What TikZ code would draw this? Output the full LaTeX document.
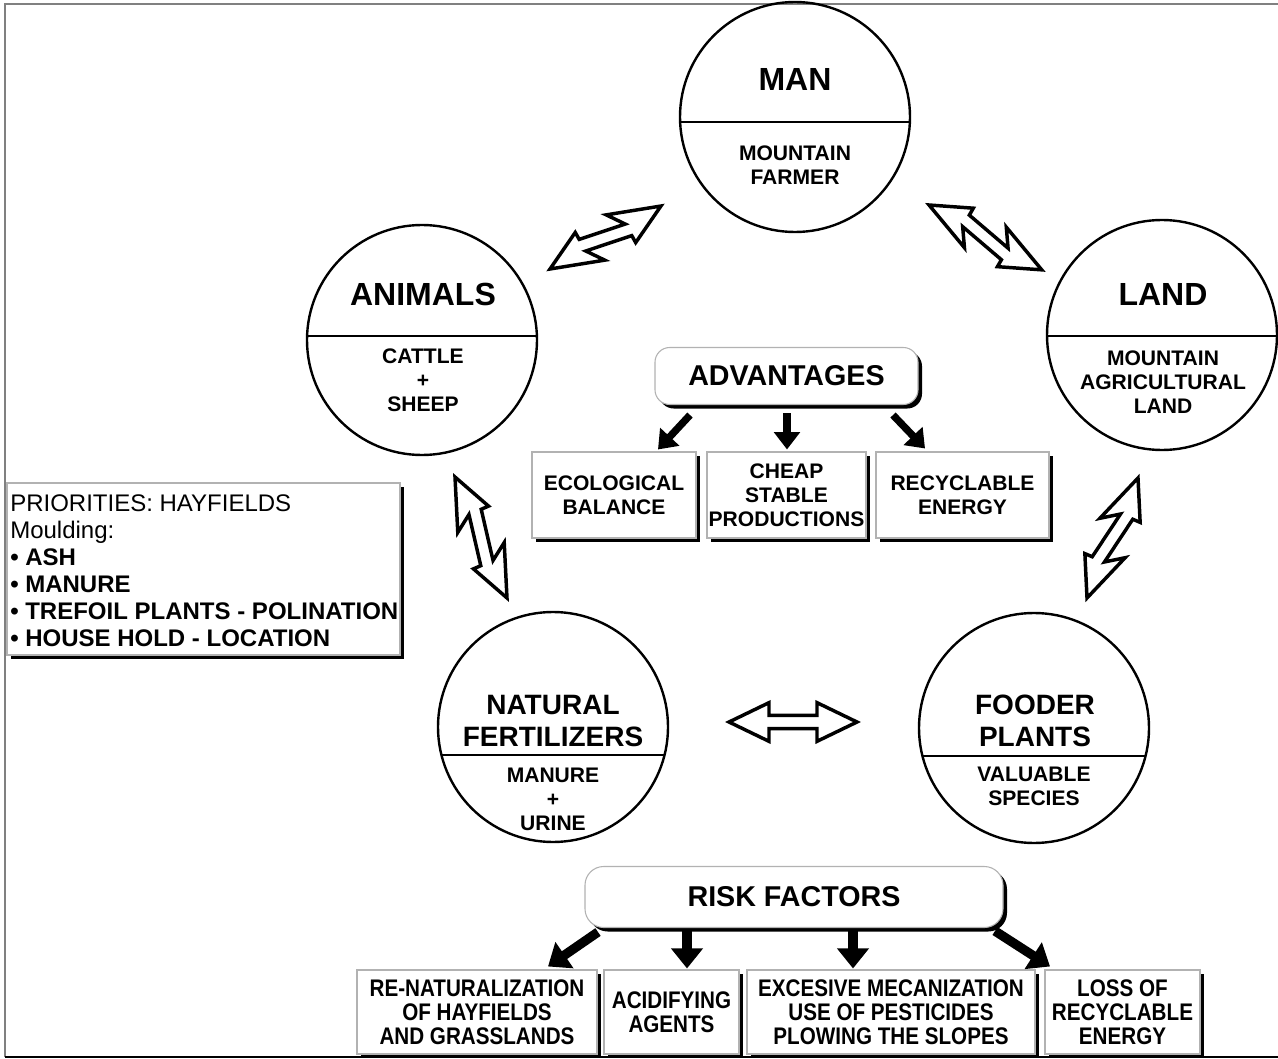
\documentclass[tikz,border=0pt]{standalone}
\usepackage{fontspec}
\setmainfont{Liberation Sans}
\newfontfamily\narrowfont[FakeStretch=0.86]{Liberation Sans}
\usetikzlibrary{calc,shadows,arrows.meta}
\newcommand\titlefont{\fontsize{24}{28}\selectfont\bfseries}
\newcommand\lowtitlefont{\fontsize{21}{24}\selectfont\bfseries}
\newcommand\subfont{\fontsize{15.8}{18}\selectfont\bfseries}
\newcommand\headfont{\fontsize{21.5}{24}\selectfont\bfseries}
\newcommand\riskfont{\narrowfont\fontsize{18}{18}\selectfont\bfseries}
\newcommand\hollowdbl[4]{%
  \pgfpointdiff{\pgfpointanchor{#1}{center}}{\pgfpointanchor{#2}{center}}%
  \pgfgetlastxy{\hdx}{\hdy}%
  \pgfmathsetmacro\harrang{atan2(\hdy,\hdx)}%
  \pgfmathsetmacro\harrlen{veclen(\hdx,\hdy)}%
  \begin{scope}[shift={(#1)}, rotate=\harrang]
    \draw[hollowarrow] (0pt,0pt) -- (30pt,14.5pt) -- (30pt,{(5+#3)*1pt})
      -- ({(\harrlen-30)*1pt},{(5-#3)*1pt}) -- ({(\harrlen-30-#4)*1pt},14.5pt)
      -- ({\harrlen*1pt},0pt) -- ({(\harrlen-30)*1pt},-14.5pt)
      -- ({(\harrlen-30)*1pt},{(-5-#3)*1pt}) -- (30pt,{(-5+#3)*1pt})
      -- ({(30+#4)*1pt},-14.5pt) -- cycle;
  \end{scope}}
\begin{document}
\begin{tikzpicture}[x=0.75pt,y=-0.75pt,
  circ/.style={circle, draw, line width=1.8pt, minimum size=172.5pt, inner sep=0pt, outer sep=0pt},
  sbox/.style={rectangle, draw=gray!60, line width=0.8pt, fill=white, inner sep=0pt, align=center,
    drop shadow={shadow xshift=3pt, shadow yshift=-3pt, opacity=1, fill=black}},
  rbox/.style={sbox, rounded corners=11pt},
  hollowarrow/.style={draw=black, fill=white, line width=2.6pt, line join=miter},
  solidarrow/.style={line width=5.5pt, -{Triangle[length=13pt,width=19pt]}},
  bigarrow/.style={line width=7pt, -{Triangle[length=15pt,width=23pt]}},
  txt/.style={inner sep=0pt, align=center}]
\useasboundingbox (0,0) rectangle (1278,1059);
% outer frame
\draw[gray, line width=1.3pt] (5,1057) -- (5,4) -- (1278,4);
\draw[black, line width=1.5pt] (5,1057) -- (1278,1057);

% circles
\node[circ] (man) at (795,117) {};
\node[circ] (animals) at (422,340) {};
\node[circ] (land) at (1162,335) {};
\node[circ] (natfert) at (553,727) {};
\node[circ] (fooder) at (1034,728) {};
\begin{scope}\clip (man.center) circle[radius=115];
  \draw[line width=1.5pt] (680,122) -- (911,122);\end{scope}
\begin{scope}\clip (animals.center) circle[radius=115];
  \draw[line width=1.5pt] (307,336) -- (538,336);\end{scope}
\begin{scope}\clip (land.center) circle[radius=115];
  \draw[line width=1.5pt] (1047,336) -- (1278,336);\end{scope}
\begin{scope}\clip (natfert.center) circle[radius=115];
  \draw[line width=1.5pt] (438,755) -- (669,755);\end{scope}
\begin{scope}\clip (fooder.center) circle[radius=115];
  \draw[line width=1.5pt] (918,756) -- (1150,756);\end{scope}

\node[txt, font=\titlefont] (mant) at (795,79) {MAN};
\node[txt, font=\subfont] (mans) at (795,165) {MOUNTAIN\\FARMER};
\node[txt, font=\titlefont] (animt) at (423,294) {ANIMALS};
\node[txt, font=\subfont] (anims) at (423,380) {CATTLE\\+\\SHEEP};
\node[txt, font=\titlefont] (landt) at (1163,294) {LAND};
\node[txt, font=\subfont] (lands) at (1163,382) {MOUNTAIN\\AGRICULTURAL\\LAND};
\node[txt, font=\lowtitlefont] (natt) at (553,721) {NATURAL\\FERTILIZERS};
\node[txt, font=\subfont] (nats) at (553,799) {MANURE\\+\\URINE};
\node[txt, font=\lowtitlefont] (foodt) at (1035,721) {FOODER\\PLANTS};
\node[txt, font=\subfont] (foods) at (1034,786) {VALUABLE\\SPECIES};

% hollow double arrows
\coordinate (ha1) at (550,269); \coordinate (hb1) at (661,206);
\coordinate (ha2) at (929,205); \coordinate (hb2) at (1042,270);
\coordinate (ha3) at (455,477); \coordinate (hb3) at (507,598);
\coordinate (ha4) at (1138,478); \coordinate (hb4) at (1087,598);
\coordinate (ha5) at (729,722); \coordinate (hb5) at (857,722);
\hollowdbl{ha1}{hb1}{3.5}{9}
\hollowdbl{ha2}{hb2}{3.5}{9}
\hollowdbl{ha3}{hb3}{3.5}{9}
\hollowdbl{ha4}{hb4}{3.5}{9}
\hollowdbl{ha5}{hb5}{0}{0}

% advantages
\node[rbox, minimum width={263*0.75pt}, minimum height={57*0.75pt}, font=\headfont] (adv) at (786.5,376) {ADVANTAGES};
\node[sbox, minimum width={164*0.75pt}, minimum height={86*0.75pt}, font=\subfont] (eco) at (614,495) {ECOLOGICAL\\BALANCE};
\node[sbox, minimum width={159*0.75pt}, minimum height={86*0.75pt}, font=\subfont] (cheap) at (786.5,495) {CHEAP\\STABLE\\PRODUCTIONS};
\node[sbox, minimum width={173*0.75pt}, minimum height={86*0.75pt}, font=\subfont] (recyc) at (962.5,495) {RECYCLABLE\\ENERGY};
\draw[solidarrow] ($(adv.south)+(-96.5,10)$) -- ($(eco.north)+(44,-2)$);
\draw[solidarrow] ($(adv.south)+(0.5,8)$) -- ($(cheap.north)+(0.5,-2)$);
\draw[solidarrow] ($(adv.south)+(106.5,10)$) -- ($(recyc.north)+(-37.5,-3)$);

% priorities
\node[sbox, minimum width={393*0.75pt}, minimum height={172*0.75pt}] (prio) at (203.5,569) {};
\node[anchor=north west, align=left, inner sep=0pt, font=\fontsize{18}{20.25}\selectfont] (priot) at (10,494)
  {PRIORITIES: HAYFIELDS\\Moulding:\\\textbf{• ASH}\\\textbf{• MANURE}\\\textbf{• TREFOIL PLANTS - POLINATION}\\\textbf{• HOUSE HOLD - LOCATION}};

% risk factors
\node[rbox, rounded corners=14pt, minimum width={418*0.75pt}, minimum height={61*0.75pt}, font=\headfont] (risk) at (794,897) {RISK FACTORS};
\node[sbox, minimum width={240*0.75pt}, minimum height={84*0.75pt}, font=\riskfont] (renat) at (477,1012) {RE-NATURALIZATION\\OF HAYFIELDS\\AND GRASSLANDS};
\node[sbox, minimum width={135*0.75pt}, minimum height={84*0.75pt}, font=\riskfont] (acid) at (671.5,1012) {ACIDIFYING\\AGENTS};
\node[sbox, minimum width={288*0.75pt}, minimum height={84*0.75pt}, font=\riskfont] (exc) at (891,1012) {EXCESIVE MECANIZATION\\USE OF PESTICIDES\\PLOWING THE SLOPES};
\node[sbox, minimum width={155*0.75pt}, minimum height={84*0.75pt}, font=\riskfont] (loss) at (1122.5,1012) {LOSS OF\\RECYCLABLE\\ENERGY};
\draw[bigarrow] ($(risk.south)+(-196,4)$) -- ($(renat.north)+(71,-3)$);
\draw[bigarrow] ($(risk.south)+(-107,3)$) -- ($(acid.north)+(15.5,-1)$);
\draw[bigarrow] ($(risk.south)+(59,3)$) -- ($(exc.north)+(-38,-1)$);
\draw[bigarrow] ($(risk.south)+(201,3)$) -- ($(loss.north)+(-72.5,-3)$);
\end{tikzpicture}
\end{document}
